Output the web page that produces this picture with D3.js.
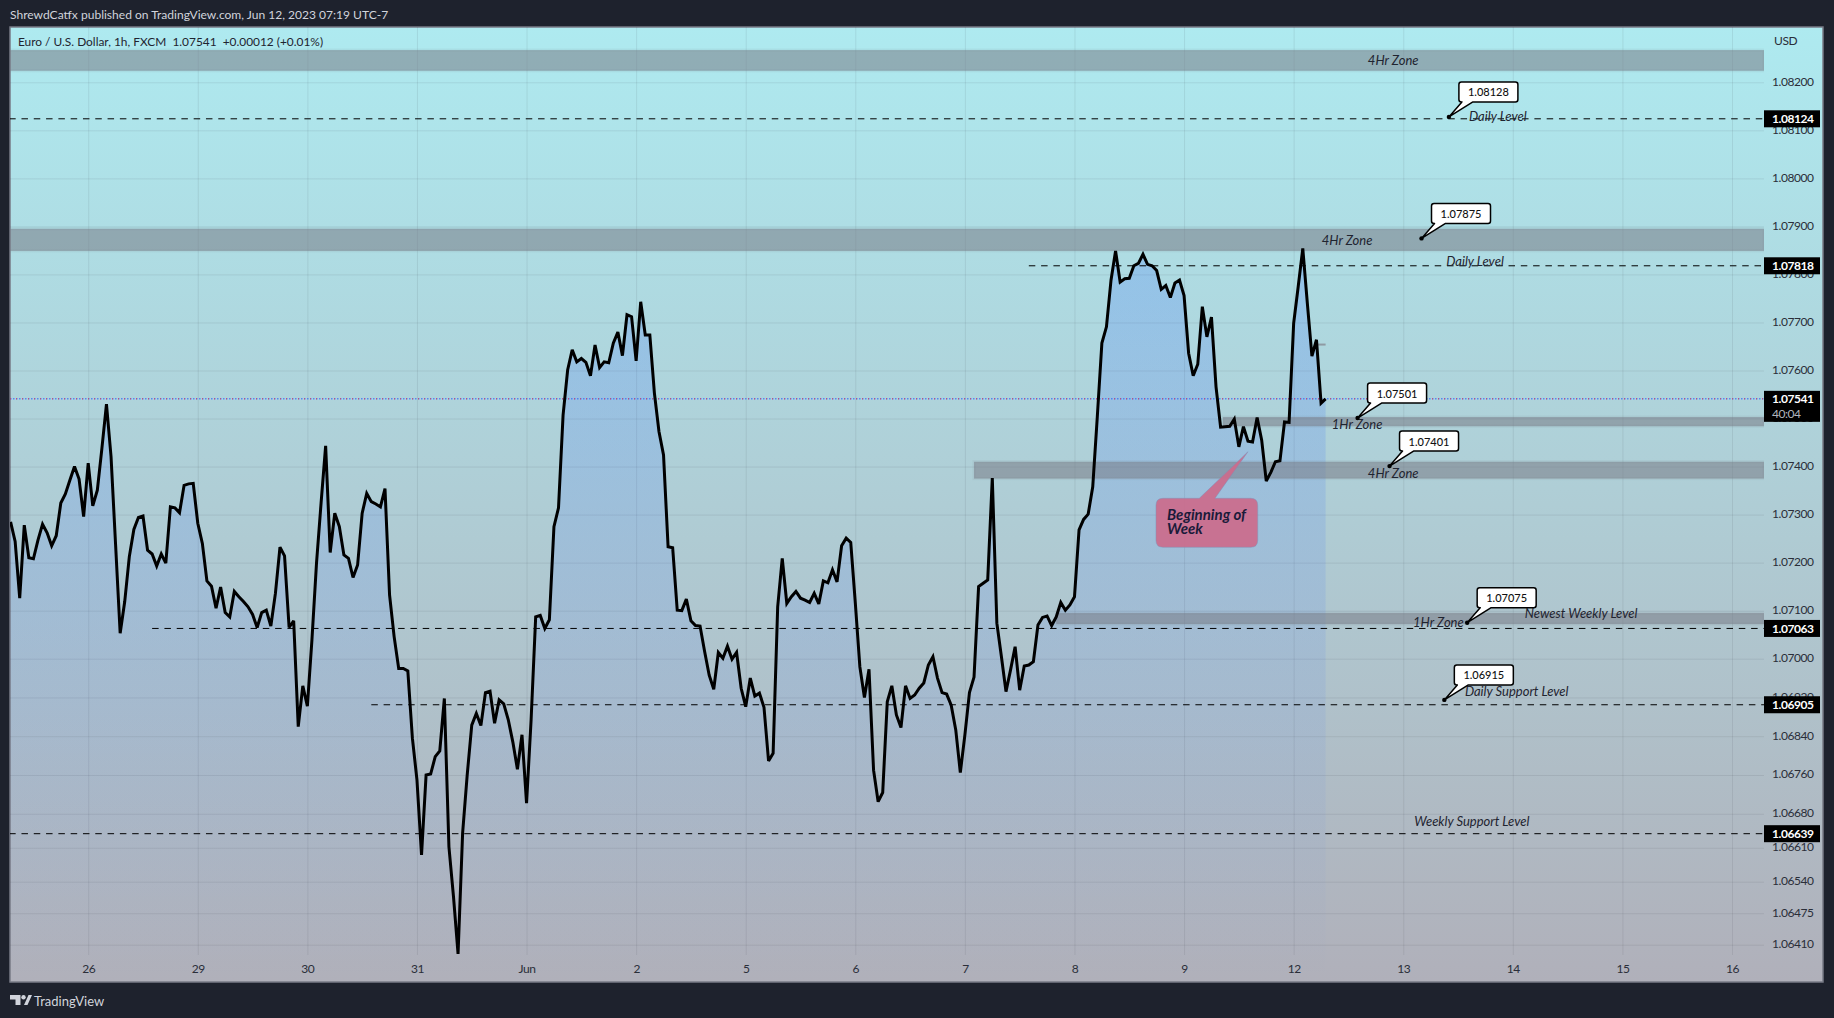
<!DOCTYPE html>
<html><head><meta charset="utf-8">
<script src="https://cdn.jsdelivr.net/npm/d3@7"></script>
<style>
html,body{margin:0;padding:0;background:#1e222d;overflow:hidden}
svg{display:block}
text{font-family:Lato,"Open Sans",sans-serif}
</style></head><body><svg id="c" width="1834" height="1018"></svg>
<script>
const closes=[
1.07285,1.07244,1.07126,1.07278,1.07210,1.07208,1.07247,1.07280,1.07262,1.07235,1.07256,1.07324,1.07343,1.07372,1.07400,1.07374,1.07296,1.07407,1.07318,1.07351,
1.07438,1.07530,1.07421,1.07237,1.07053,1.07119,1.07212,1.07269,1.07294,1.07297,1.07226,1.07218,1.07193,1.07218,1.07199,1.07316,1.07314,1.07304,1.07361,1.07364,
1.07365,1.07282,1.07240,1.07162,1.07151,1.07105,1.07149,1.07096,1.07087,1.07140,1.07129,1.07119,1.07108,1.07092,1.07065,1.07096,1.07101,1.07068,1.07136,1.07232,
1.07214,1.07065,1.07079,1.06860,1.06944,1.06902,1.07039,1.07199,1.07324,1.07443,1.07221,1.07303,1.07275,1.07216,1.07209,1.07169,1.07195,1.07303,1.07344,1.07327,
1.07322,1.07316,1.07354,1.07133,1.07046,1.06980,1.06980,1.06975,1.06836,1.06750,1.06595,1.06760,1.06762,1.06798,1.06810,1.06918,1.06612,1.06509,1.06391,1.06640,
1.06760,1.06863,1.06887,1.06862,1.06930,1.06933,1.06867,1.06915,1.06907,1.06874,1.06828,1.06772,1.06843,1.06702,1.06874,1.07087,1.07090,1.07063,1.07081,1.07275,
1.07314,1.07507,1.07601,1.07643,1.07618,1.07625,1.07617,1.07589,1.07653,1.07606,1.07618,1.07616,1.07657,1.07680,1.07631,1.07716,1.07712,1.07620,1.07743,1.07674,
1.07674,1.07553,1.07473,1.07424,1.07233,1.07231,1.07101,1.07100,1.07124,1.07079,1.07069,1.07068,1.07015,1.06966,1.06937,1.07013,1.07001,1.07026,1.06999,1.07013,
1.06939,1.06901,1.06960,1.06923,1.06929,1.06900,1.06789,1.06805,1.07108,1.07209,1.07115,1.07129,1.07140,1.07126,1.07122,1.07117,1.07136,1.07114,1.07162,1.07158,
1.07185,1.07160,1.07235,1.07251,1.07242,1.07116,1.06983,1.06920,1.06978,1.06770,1.06705,1.06724,1.06911,1.06944,1.06884,1.06858,1.06944,1.06918,1.06925,1.06939,
1.06950,1.06987,1.07004,1.06960,1.06930,1.06927,1.06904,1.06853,1.06765,1.06843,1.06930,1.06962,1.07150,1.07157,1.07164,1.07376,1.07074,1.07004,1.06932,1.06977,
1.07025,1.06935,1.06985,1.06987,1.06994,1.07070,1.07086,1.07089,1.07069,1.07087,1.07117,1.07101,1.07112,1.07129,1.07268,1.07290,1.07301,1.07358,1.07504,1.07657,
1.07691,1.07788,1.07849,1.07784,1.07791,1.07792,1.07818,1.07823,1.07842,1.07821,1.07818,1.07808,1.07769,1.07777,1.07752,1.07782,1.07788,1.07756,1.07636,1.07589,
1.07613,1.07733,1.07670,1.07711,1.07566,1.07482,1.07483,1.07484,1.07499,1.07441,1.07483,1.07453,1.07451,1.07502,1.07455,1.07370,1.07388,1.07410,1.07412,1.07493,
1.07492,1.07698,1.07775,1.07854,1.07740,1.07630,1.07664,1.07532,1.07541];

const priceTicks=[1.082,1.081,1.08,1.079,1.078,1.077,1.076,1.075,1.074,1.073,1.072,1.071,1.07,1.0692,1.0684,1.0676,1.0668,1.0661,1.0654,1.06475,1.0641];
const dayBars=[17,41,65,89,113,137,161,185,209,233,257,281,305,329,353,377];
const dayLabels=["26","29","30","31","Jun","2","5","6","7","8","9","12","13","14","15","16"];

const zoneHigh=[1.08267,1.07895,1.07503,1.07410,1.07095];
const zoneLow=[1.08224,1.07849,1.07484,1.07375,1.07072];
const zoneStartBar=[-3,-3,265.5,211,229];
const zoneLabels=["4Hr Zone","4Hr Zone","1Hr Zone","4Hr Zone","1Hr Zone"];
const zoneLabelBars=[302.8,292.7,294.9,302.8,312.7];

const levelPrices=[1.08124,1.07818,1.07063,1.06905,1.06639];
const levelStartBar=[-3,223,31,79,-3];

const noteLabels=["Daily Level","Daily Level","Newest Weekly Level","Daily Support Level","Weekly Support Level"];
const noteBars=[319.4,314.4,331.6,318.5,307.4];
const notePrices=[1.0813,1.07828,1.07096,1.06933,1.06666];

const calloutPrices=[1.08128,1.07875,1.07501,1.07401,1.07075,1.06915];
const calloutBars=[315,309,295,302,319,314];

const lastPrice=1.07541;
const countdown="40:04";
const noteBar=271, notePrice=1.07431;
const headerText="ShrewdCatfx published on TradingView.com, Jun 12, 2023 07:19 UTC-7";
const legendText="Euro / U.S. Dollar, 1h, FXCM  1.07541  +0.00012 (+0.01%)";

const W=1834,H=1018,L=10,T=27,R=1764,B=982,FR=1823,AX=955;
const svg=d3.select("#c");
const x=d3.scaleLinear().domain([17,377]).range([88.2,1732]);
const y=d3.scaleLinear().domain([1.082,1.07,1.0641]).range([82.3,658.7,944.7]);
const inkAxis="#2a2e39";

const defs=svg.append("defs");
const bg=defs.append("linearGradient").attr("id","bg").attr("x1",0).attr("x2",0).attr("y1",0).attr("y2",1);
bg.append("stop").attr("offset",0).attr("stop-color","#aeeaf0");
bg.append("stop").attr("offset",1).attr("stop-color","#b0b0ba");
const ag=defs.append("linearGradient").attr("id","ag").attr("gradientUnits","userSpaceOnUse").attr("x1",0).attr("x2",0).attr("y1",y(d3.max(closes))).attr("y2",B);
ag.append("stop").attr("offset",0).attr("stop-color","#2962ff").attr("stop-opacity",.2);
ag.append("stop").attr("offset",1).attr("stop-color","#2962ff").attr("stop-opacity",.0);
defs.append("clipPath").attr("id","plot").append("rect").attr("x",L).attr("y",T).attr("width",R-L).attr("height",B-T);

svg.append("rect").attr("width",W).attr("height",H).attr("fill","#1e222d");
svg.append("rect").attr("x",L).attr("y",T).attr("width",FR-L).attr("height",B-T).attr("fill","url(#bg)").attr("stroke","#787b86").attr("stroke-width",1.5);

// grid
const gridY=svg.append("g").attr("transform",`translate(${R},0)`).call(d3.axisLeft(y).tickValues(priceTicks).tickSize(R-L).tickFormat(""));
gridY.select(".domain").remove();
gridY.selectAll("line").attr("stroke","#2a2e39").attr("stroke-opacity",.09);
const gridX=svg.append("g").attr("transform",`translate(0,${AX})`).call(d3.axisTop(x).tickValues(dayBars).tickSize(AX-T).tickFormat(""));
gridX.select(".domain").remove();
gridX.selectAll("line").attr("stroke","#2a2e39").attr("stroke-opacity",.09);

// area
const plot=svg.append("g").attr("clip-path","url(#plot)");
const pts=closes.map((c,i)=>[i,c]);
plot.append("path").datum(pts).attr("fill","url(#ag)")
  .attr("d",d3.area().x(d=>x(d[0])).y0(B).y1(d=>y(d[1])));

// zones
plot.selectAll("rect.zone").data(zoneHigh).join("rect").attr("class","zone")
  .attr("x",(d,i)=>x(zoneStartBar[i]))
  .attr("width",(d,i)=>R-x(zoneStartBar[i]))
  .attr("y",d=>y(d))
  .attr("height",(d,i)=>y(zoneLow[i])-y(d))
  .attr("fill","#787b86").attr("fill-opacity",.55)
  .attr("stroke","#787b86").attr("stroke-opacity",.1).attr("stroke-width",3);

// levels
plot.selectAll("line.level").data(levelPrices).join("line").attr("class","level")
  .attr("x1",(d,i)=>x(levelStartBar[i])).attr("x2",R)
  .attr("y1",d=>y(d)).attr("y2",d=>y(d))
  .attr("stroke","#000").attr("stroke-width",1).attr("stroke-dasharray","6.5 5.8");

// last price line
plot.append("line").attr("x1",L).attr("x2",R).attr("y1",y(lastPrice)).attr("y2",y(lastPrice))
  .attr("stroke","#2962ff").attr("stroke-width",1).attr("stroke-dasharray","1.5 1.5");
plot.append("line").attr("x1",L).attr("x2",R).attr("y1",y(lastPrice)).attr("y2",y(lastPrice))
  .attr("stroke","#f23645").attr("stroke-width",1).attr("stroke-dasharray","1 5");

// small stub near the latest bars
plot.append("line").attr("x1",x(285.6)).attr("x2",x(288)).attr("y1",y(1.07654)).attr("y2",y(1.07654)).attr("stroke","#8f9aa3").attr("stroke-width",2);

// series line
plot.append("path").datum(pts).attr("fill","none").attr("stroke","#000").attr("stroke-width",3).attr("stroke-linejoin","miter").attr("stroke-miterlimit",3)
  .attr("d",d3.line().x(d=>x(d[0])).y(d=>y(d[1])));

// zone + level labels
const ital={"font-style":"italic","font-size":"13px","fill":"#1f2430","text-anchor":"middle","dominant-baseline":"central"};
function styled(sel,o){Object.entries(o).forEach(([k,v])=>sel.style(k,v));return sel;}
styled(plot.selectAll("text.zl").data(zoneLabels).join("text").attr("class","zl")
  .attr("x",(d,i)=>x(zoneLabelBars[i])).attr("y",(d,i)=>(y(zoneHigh[i])+y(zoneLow[i]))/2+[0,0,2.5,2.4,3][i]).text(d=>d),ital);
styled(plot.selectAll("text.nl").data(noteLabels).join("text").attr("class","nl")
  .attr("x",(d,i)=>x(noteBars[i])).attr("y",(d,i)=>y(notePrices[i])).text(d=>d),ital).style("text-anchor","start");

// price callouts
function bubble(bx,by,bw,bh,r,t1,t2,tx,ty){
  return `M${bx+r},${by}H${bx+bw-r}Q${bx+bw},${by} ${bx+bw},${by+r}V${by+bh-r}Q${bx+bw},${by+bh} ${bx+bw-r},${by+bh}H${t2}L${tx},${ty}L${t1},${by+bh}H${bx+r}Q${bx},${by+bh} ${bx},${by+bh-r}V${by+r}Q${bx},${by} ${bx+r},${by}Z`;
}
function bubbleTop(bx,by,bw,bh,r,t1,t2,tx,ty){
  return `M${bx+r},${by}H${t1}L${tx},${ty}L${t2},${by}H${bx+bw-r}Q${bx+bw},${by} ${bx+bw},${by+r}V${by+bh-r}Q${bx+bw},${by+bh} ${bx+bw-r},${by+bh}H${bx+r}Q${bx},${by+bh} ${bx},${by+bh-r}V${by+r}Q${bx},${by} ${bx+r},${by}Z`;
}
const co=svg.append("g");
calloutPrices.forEach((p,i)=>{
  const dx=x(calloutBars[i]),dy=y(p),bx=dx+10,by=dy-35,bw=59,bh=20;
  co.append("path").attr("d",bubble(bx,by,bw,bh,2.5,bx+3,bx+14,dx,dy)).attr("fill","#fff").attr("stroke","#000").attr("stroke-width",1.5).attr("stroke-linejoin","round");
  co.append("circle").attr("cx",dx).attr("cy",dy).attr("r",2.2).attr("fill","#000");
  co.append("text").attr("x",bx+bw/2).attr("y",by+bh/2).attr("text-anchor","middle").attr("dominant-baseline","central").attr("font-size","11px").attr("fill","#111").attr("font-weight",500).text(p.toFixed(5));
});

// pink note
const tipX=x(noteBar),tipY=y(notePrice);
svg.append("path").attr("d",bubbleTop(tipX-92,tipY+46.6,101.7,49,7,tipX-48.7,tipX-33,tipX,tipY))
  .attr("fill","#cb6c8c").attr("fill-opacity",.93).attr("stroke","#7f8fb5").attr("stroke-opacity",.45);
const noteTxt=svg.append("text").attr("font-style","italic").attr("font-weight",700).attr("font-size","15px").attr("fill","#1b1b3a");
noteTxt.append("tspan").attr("x",tipX-81).attr("y",tipY+68.5).text("Beginning of");
noteTxt.append("tspan").attr("x",tipX-81).attr("y",tipY+82.5).text("Week");

// axes
const axFont=s=>s.style("font-family","Lato").style("font-size","12px").style("letter-spacing","-0.45px");
const axR=svg.append("g").attr("transform",`translate(${R},0)`).call(d3.axisRight(y).tickValues(priceTicks).tickSize(0).tickPadding(8).tickFormat(d=>d.toFixed(5)));
axR.select(".domain").remove();
axFont(axR.selectAll("text").attr("fill",inkAxis).attr("dy","2.9px"));
const axB=svg.append("g").attr("transform",`translate(0,${AX})`).call(d3.axisBottom(x).tickValues(dayBars).tickSize(0).tickPadding(9).tickFormat((d,i)=>dayLabels[i]));
axB.select(".domain").remove();
axFont(axB.selectAll("text").attr("fill",inkAxis));
axFont(svg.append("text").attr("x",1774).attr("y",40.5).attr("dominant-baseline","central").attr("fill",inkAxis).text("USD"));

// level tags
levelPrices.forEach(p=>{
  svg.append("rect").attr("x",R).attr("y",y(p)-8.5).attr("width",56).attr("height",17).attr("fill","#000");
  axFont(svg.append("text").attr("x",R+8).attr("y",y(p)).attr("dominant-baseline","central").attr("fill","#fff").attr("font-weight",700).text(p.toFixed(5)));
});
const ly=y(lastPrice);
svg.append("rect").attr("x",R).attr("y",ly-8).attr("width",56).attr("height",31).attr("fill","#000");
axFont(svg.append("text").attr("x",R+8).attr("y",ly).attr("dominant-baseline","central").attr("fill","#fff").attr("font-weight",700).text(lastPrice.toFixed(5)));
axFont(svg.append("text").attr("x",R+8).attr("y",ly+14.5).attr("dominant-baseline","central").attr("fill","#b2b5be").text(countdown));

// legend, header, footer
svg.append("text").attr("x",18).attr("y",41.5).attr("dominant-baseline","central").attr("fill","#1f2430").attr("font-size","11.9px").attr("xml:space","preserve").text(legendText);
svg.append("text").attr("x",10).attr("y",14.5).attr("dominant-baseline","central").attr("fill","#d1d4dc").attr("font-size","12.05px").text(headerText);
svg.append("path").attr("fill","#d1d4dc").attr("d","M10,995H20.5V1005H15.5V999.5H10Z M24,1005L28.5,995H32L27.5,1005Z");
svg.append("circle").attr("cx",23.5).attr("cy",997.3).attr("r",2.2).attr("fill","#d1d4dc");
svg.append("text").attr("x",34).attr("y",1000.5).attr("dominant-baseline","central").attr("fill","#d1d4dc").attr("font-size","13px").text("TradingView");
</script></body></html>
